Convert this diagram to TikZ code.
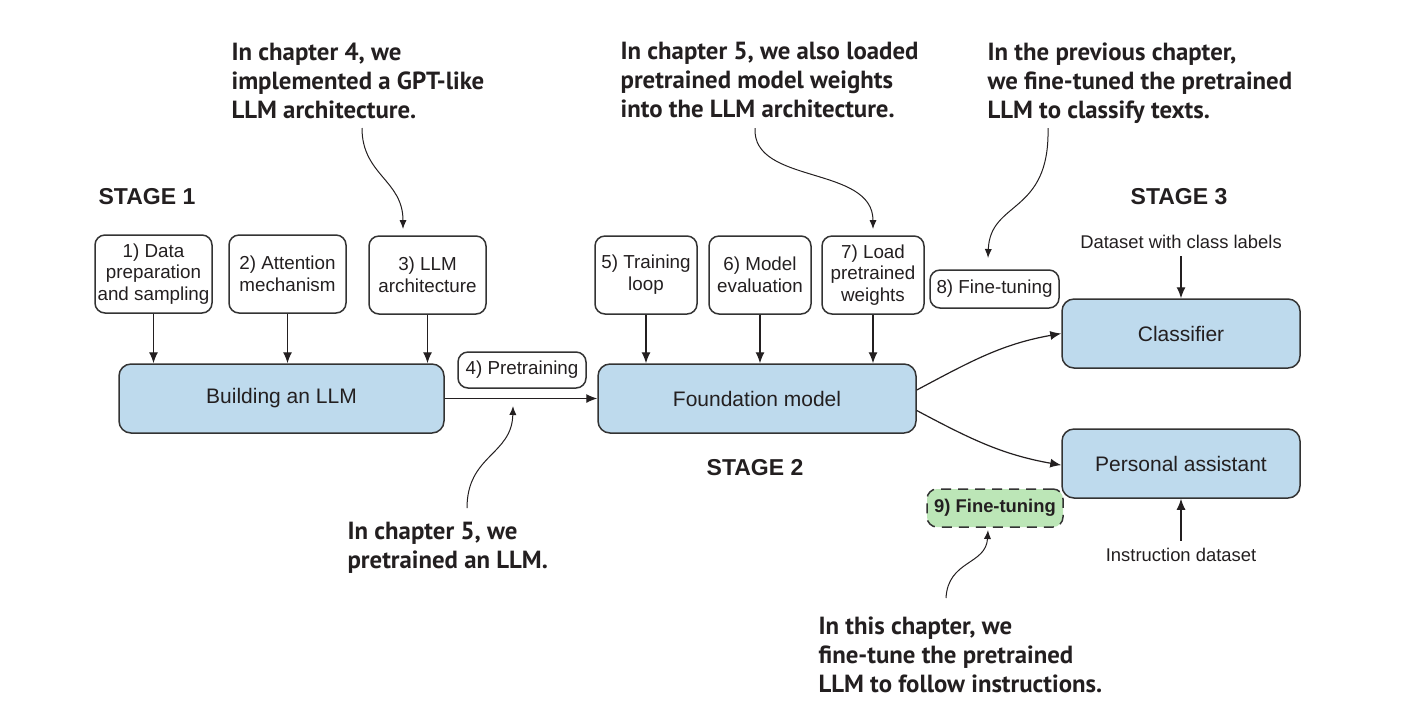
\documentclass[tikz,border=0pt]{standalone}
\usepackage{fontspec}
\setmainfont{Liberation Sans}
\newfontfamily\notefont{PT Sans}
\usetikzlibrary{arrows.meta}
\definecolor{boxblue}{HTML}{BEDAED}
\definecolor{tunegreen}{HTML}{BCE6B7}
\definecolor{edgegray}{HTML}{333333}
\definecolor{inkgray}{HTML}{231F20}

\begin{document}
\begin{tikzpicture}[x=0.5pt, y=-0.5pt, line width=0.6pt, text=inkgray,
  stepbox/.style={draw=edgegray, line width=0.75pt, rounded corners=5pt, align=center,
    inner sep=0pt, font=\fontsize{9.4}{10.9}\selectfont},
  bigbox/.style={draw=edgegray, fill=boxblue, line width=0.75pt, rounded corners=6pt,
    inner sep=0pt, minimum height=34.5pt, font=\fontsize{10.5}{12}\selectfont},
  notetext/.style={anchor=north west, align=left, inner sep=0pt,
    font=\notefont\bfseries\fontsize{12.4}{14.5}\selectfont},
  stagelabel/.style={font=\bfseries\fontsize{11.5}{13}\selectfont},
  smalltext/.style={font=\fontsize{9.2}{10.4}\selectfont},
  arr/.style={draw=inkgray, -{Latex[length=5.5pt, width=4.5pt]}},
  notearr/.style={draw=inkgray, line width=0.5pt, -{Latex[length=4.5pt, width=3.6pt]}}]

  \useasboundingbox (0,0) rectangle (1417,709);

  % -- stage 1 -------------------------------------------------------------
  \node[stagelabel] (stageone) at (147,197) {STAGE 1};
  \node[stepbox, minimum width=58.5pt, minimum height=39pt] (data) at (153.5,274)
    {1) Data\\preparation\\and sampling};
  \node[stepbox, minimum width=58.5pt, minimum height=39pt] (attn) at (287.5,274)
    {2) Attention\\mechanism};
  \node[stepbox, minimum width=58.5pt, minimum height=39pt] (arch) at (427.5,275)
    {3) LLM\\architecture};
  \node[bigbox, minimum width=162.5pt] (build) at (281.5,398.5) {Building an LLM};

  \draw[arr] (data.south) -- (data.south |- build.north);
  \draw[arr] (attn.south) -- (attn.south |- build.north);
  \draw[arr] (arch.south) -- (arch.south |- build.north);

  % -- stage 2 -------------------------------------------------------------
  \node[stepbox, minimum width=64pt, minimum height=18pt] (pretrain) at (522,370) {4) Pretraining};
  \node[stepbox, minimum width=51pt, minimum height=39pt] (loop) at (646,275)
    {5) Training\\loop};
  \node[stepbox, minimum width=51pt, minimum height=39pt] (eval) at (760,275)
    {6) Model\\evaluation};
  \node[stepbox, minimum width=51pt, minimum height=39pt] (load) at (873,275)
    {7) Load\\pretrained\\weights};
  \node[bigbox, minimum width=159pt] (found) at (757,398.5) {Foundation model};
  \node[stagelabel] (stagetwo) at (755,468) {STAGE 2};

  \draw[arr] (build.east) -- (found.west);
  \draw[arr] (loop.south) -- (loop.south |- found.north);
  \draw[arr] (eval.south) -- (eval.south |- found.north);
  \draw[arr] (load.south) -- (load.south |- found.north);

  % -- stage 3 -------------------------------------------------------------
  \node[stagelabel] (stagethree) at (1179,197) {STAGE 3};
  \node[stepbox, minimum width=64.5pt, minimum height=19pt] (tuneclf) at (994.5,289) {8) Fine-tuning};
  \node[bigbox, minimum width=119pt] (clf) at (1181,333.5) {Classifier};
  \node[bigbox, minimum width=119pt] (assist) at (1181,463.5) {Personal assistant};
  \node[stepbox, fill=tunegreen, dashed, dash pattern=on 5pt off 3.5pt, minimum width=68pt,
    minimum height=19pt, font=\bfseries\fontsize{9.2}{10.4}\selectfont] (tuneins) at (995,508)
    {9) Fine-tuning};
  \node[smalltext] (clfdata) at (1181,242) {Dataset with class labels};
  \node[smalltext] (insdata) at (1181,555) {Instruction dataset};

  \draw[arr] ([yshift=4.25pt]found.east) to[out=28, in=190] (clf.west);
  \draw[arr] ([yshift=-6pt]found.east) to[out=-28, in=170] ([yshift=-0.8pt]assist.west);
  \draw[arr] (clfdata.south) -- (clf.north);
  \draw[arr] (insdata.north) -- (assist.south);

  % -- notes and their wavy pointers -----------------------------------------
  \node[notetext] (notearch) at (231,42)
    {In chapter 4, we\\implemented a GPT-like\\LLM architecture.};
  \node[notetext] (noteload) at (620,42)
    {In chapter 5, we also loaded\\pretrained model weights\\into the LLM architecture.};
  \node[notetext] (noteclf) at (987,42)
    {In the previous chapter,\\we fine-tuned the pretrained\\LLM to classify texts.};
  \node[notetext] (notepre) at (347,522)
    {In chapter 5, we\\pretrained an LLM.};
  \node[notetext] (noteins) at (818,616)
    {In this chapter, we\\fine-tune the pretrained\\LLM to follow instructions.};

  \coordinate (archtail) at (362,128);   \coordinate (archtip) at (403,229);
  \coordinate (loadtail) at (755,128);   \coordinate (loadtip) at (873,229);
  \coordinate (clftail) at (1048,128);   \coordinate (clftip) at (988,258);
  \coordinate (pretail) at (467,508);    \coordinate (pretip) at (513,406);
  \coordinate (instail) at (946,598);    \coordinate (instip) at (988,530);

  \draw[notearr] (archtail) .. controls (362,175) and (403,180) .. (archtip);
  \draw[notearr] (loadtail) .. controls (752,185) and (873,165) .. (loadtip);
  \draw[notearr] (clftail) .. controls (1050,215) and (990,200) .. (clftip);
  \draw[notearr] (pretail) .. controls (467,455) and (512,455) .. (pretip);
  \draw[notearr] (instail) .. controls (948,560) and (986,565) .. (instip);

\end{tikzpicture}
\end{document}
